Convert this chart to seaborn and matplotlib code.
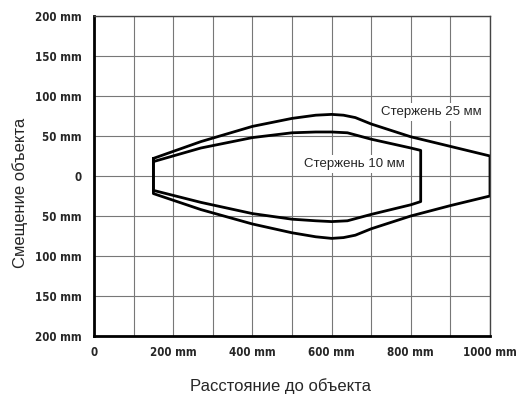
import matplotlib
matplotlib.use("Agg")
import matplotlib.pyplot as plt
import seaborn as sns
import pandas as pd

# rod 25 mm: upper edge (left -> right), lower edge (left -> right)
x25 = [150, 270, 400, 500, 560, 600, 630, 660, 700, 800, 900, 1000]
up25 = [22, 43, 62, 72, 76, 77, 76, 73, 65, 49, 37, 25]
lo25 = [-22, -42, -60, -71, -76, -78, -77, -74, -66, -50, -37, -25]

# rod 10 mm
x10 = [150, 270, 400, 500, 560, 600, 640, 700, 800, 825]
up10 = [18, 35, 48, 54, 55, 55, 54, 46, 35, 32]
lo10 = [-18, -33, -47, -54, -56, -57, -56, -48, -36, -32]

x_ticks = [0, 200, 400, 600, 800, 1000]
x_labels = ["0", "200 mm", "400 mm", "600 mm", "800 mm", "1000 mm"]
y_ticks = [-200, -150, -100, -50, 0, 50, 100, 150, 200]
y_labels = ["200 mm", "150 mm", "100 mm", "50 mm", "0", "50 mm", "100 mm", "150 mm", "200 mm"]


def outline(xs, up, lo):
    # closed contour: upper edge, right side, lower edge back, left side
    px = xs + xs[::-1] + [xs[0]]
    py = up + lo[::-1] + [up[0]]
    return pd.DataFrame({"x": px, "y": py})


sns.set_style("white")
plt.rcParams["font.family"] = ["Liberation Sans", "DejaVu Sans"]

fig = plt.figure(figsize=(5.16, 3.97), dpi=100)
ax = fig.add_axes([0.1822, 0.1537, 0.7674, 0.806])

sns.lineplot(data=outline(x25, up25, lo25), x="x", y="y", sort=False,
             color="black", lw=2, ax=ax, estimator=None)
sns.lineplot(data=outline(x10, up10, lo10), x="x", y="y", sort=False,
             color="black", lw=2, ax=ax, estimator=None)

ax.set_xlim(0, 1000)
ax.set_ylim(-200, 200)
tick_font = dict(family=["DejaVu Sans"], stretch="condensed",
                 weight="bold", size=8.3)
ax.set_xticks(x_ticks)
ax.set_xticklabels(x_labels, **tick_font)
ax.set_xticks(range(100, 1000, 200), minor=True)
ax.set_yticks(y_ticks)
ax.set_yticklabels(y_labels, **tick_font)
ax.tick_params(which="both", length=0)
ax.tick_params(axis="x", pad=7)
ax.tick_params(axis="y", pad=9)
ax.grid(True, which="both", color="#777777", lw=0.8)
ax.set_axisbelow(True)

for s in ["left", "bottom"]:
    ax.spines[s].set_color("black")
    ax.spines[s].set_linewidth(2)
for s in ["top", "right"]:
    ax.spines[s].set_color("#444444")
    ax.spines[s].set_linewidth(1)

box = dict(facecolor="white", edgecolor="none", pad=2)
ax.text(853, 80, "Стержень 25 мм", ha="center", va="center", fontsize=9.5, bbox=box)
ax.text(657, 15, "Стержень 10 мм", ha="center", va="center", fontsize=9.5, bbox=box)

ax.set_xlabel("Расстояние до объекта", fontsize=12, va="center")
ax.set_ylabel("Смещение объекта", fontsize=12, va="center")
ax.xaxis.set_label_coords(0.47, -0.156)
ax.yaxis.set_label_coords(-0.187, 0.447)

fig.savefig("out.png", dpi=100)
